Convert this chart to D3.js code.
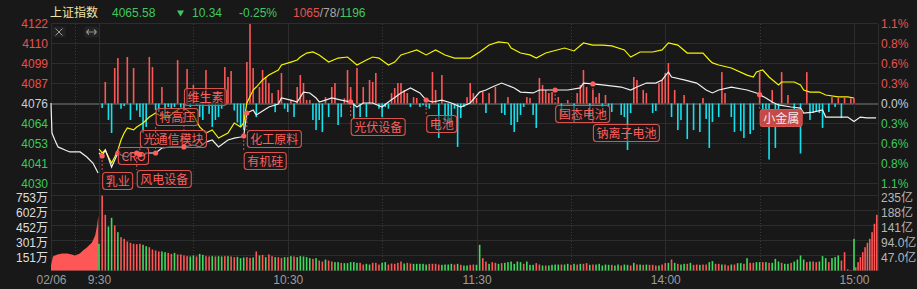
<!DOCTYPE html>
<html>
<head>
<meta charset="utf-8">
<title>上证指数 分时</title>
<script src="https://cdn.jsdelivr.net/npm/d3@7/dist/d3.min.js"></script>
<style>
  html, body { margin: 0; padding: 0; background: #181818; overflow: hidden; }
  svg { display: block; }
  text { font-family: "Liberation Sans", Arial, "Noto Sans CJK SC", sans-serif; }
  .cjk { font-family: "Noto Sans CJK SC", sans-serif; }
</style>
</head>
<body>
<div id="chart"></div>
<script>
// minute index t : -15 = 9:15 (auction), 0 = 9:30, 120 = 11:30/13:00, 240 = 15:00

const prevClose = 4075.92;
const priceSpan = 46.1;

const stockName = "上证指数";
const lastPrice = "4065.58";
const changeVal = "10.34";
const changePct = "-0.25%";
const breadth = ["1065", "78", "1196"];   // up / flat / down

const priceTicks = ["4122", "4110", "4099", "4087", "4076", "4064", "4053", "4041", "4030"];
const pctTicks = ["1.1%", "0.8%", "0.6%", "0.3%", "0.0%", "0.3%", "0.6%", "0.8%", "1.1%"];
const volMax = 753;
const volTicks = ["753万", "602万", "452万", "301万", "151万"];
const amtTicks = ["235亿", "188亿", "141亿", "94.0亿", "47.0亿"];
const timeTicks = [-15, 0, 60, 120, 180, 240];
const timeLabels = ["02/06", "9:30", "10:30", "11:30", "14:00", "15:00"];

// call auction virtual price
const auctionLine = [[-15,4076.2],[-14.7,4058.9],[-13.8,4054.9],[-12.8,4050.9],[-10.6,4049.1],[-9.1,4048.0],
  [-5.9,4048.0],[-3.8,4045.1],[-1.9,4041.6],[-0.6,4037.0],[-0.3,4035.9]];

// index (white)
const indexLine = [[0,4047.4],[1,4045.7],[2,4049.1],[3,4044.5],[4,4039.3],[5,4043.4],[6,4047.4],[7,4046.2],
  [9,4045.1],[10,4047.4],[12,4047.4],[14,4045.7],[15,4047.4],[18,4047.4],[20,4050.3],[23,4050.9],[27,4050.9],
  [30,4052.0],[32,4050.9],[34,4053.7],[36,4054.9],[38,4050.9],[41,4054.9],[43,4056.0],[45,4056.6],[46,4057.2],
  [47,4070.4],[49,4072.2],[50,4069.3],[52,4071.6],[54,4073.9],[57,4075.6],[58,4079.1],[61,4077.9],[63,4076.8],
  [65,4082.5],[67,4082.0],[69,4079.1],[70,4076.8],[72,4077.9],[74,4079.1],[77,4077.9],[80,4076.8],[82,4073.9],
  [84,4076.2],[87,4076.2],[90,4073.9],[92,4076.8],[96,4082.0],[99,4084.9],[102,4082.0],[104,4077.9],[106,4076.8],
  [109,4077.9],[112,4076.2],[115,4073.9],[118,4076.2],[121,4082.5],[123,4083.7],[125,4085.4],[128,4087.7],
  [132,4084.9],[134,4082.5],[138,4082.0],[140,4083.7],[145,4083.7],[149,4083.7],[153,4084.9],[154,4087.7],
  [157,4087.2],[160,4086.6],[166,4085.4],[169,4083.7],[171,4085.4],[174,4087.7],[177,4087.7],[179,4089.5],
  [181,4094.1],[182,4091.2],[186,4089.5],[190,4087.7],[193,4083.7],[195,4082.0],[197,4083.7],[201,4085.4],
  [206,4083.7],[209,4082.0],[212,4079.1],[214,4076.8],[216,4075.1],[220,4073.9],[223,4073.3],[224,4070.4],
  [227,4071.0],[230,4072.2],[231,4068.1],[235,4068.1],[238,4068.1],[240,4065.6],[242,4068.1],[244,4067.6],
  [247,4067.6]];

// leading index (yellow)
const leadLine = [[0,4049.7],[1,4047.4],[2,4049.1],[3,4045.1],[4,4041.6],[5,4045.1],[6,4049.1],[7,4054.9],
  [8,4058.9],[9,4061.8],[11,4060.7],[12,4062.4],[14,4064.7],[16,4068.1],[18,4070.4],[19,4069.3],[22,4068.1],
  [24,4071.0],[26,4073.3],[28,4072.2],[30,4069.3],[32,4062.4],[34,4058.9],[36,4060.7],[38,4056.0],[41,4058.9],
  [43,4064.7],[45,4062.4],[46,4064.7],[47,4076.2],[49,4083.7],[50,4085.4],[52,4089.5],[54,4092.3],[57,4095.2],
  [58,4098.1],[61,4099.8],[63,4101.0],[64,4102.7],[66,4105.0],[68,4105.6],[70,4103.9],[73,4099.8],[76,4102.1],
  [79,4102.7],[82,4098.1],[85,4101.0],[87,4102.7],[89,4102.1],[92,4098.1],[94,4099.8],[96,4103.9],[98,4105.0],
  [101,4106.8],[104,4103.9],[107,4106.8],[110,4103.9],[113,4102.1],[118,4102.1],[121,4105.6],[124,4109.6],
  [127,4111.4],[130,4110.8],[131,4107.9],[134,4105.0],[137,4103.9],[139,4102.1],[142,4105.0],[148,4107.9],
  [151,4106.2],[154,4110.8],[157,4109.6],[160,4109.6],[163,4109.1],[167,4106.8],[169,4102.7],[172,4105.6],
  [176,4105.6],[179,4106.8],[181,4110.8],[184,4109.6],[187,4105.0],[192,4105.0],[194,4101.0],[195,4099.3],
  [197,4098.1],[201,4096.4],[206,4092.3],[208,4091.2],[209,4094.1],[211,4095.2],[213,4091.2],[216,4086.6],
  [217,4088.3],[221,4088.3],[223,4086.6],[224,4083.7],[226,4082.5],[229,4082.5],[231,4080.8],[235,4079.7],
  [238,4079.7],[240,4079.1]];

// buy/sell force bars, in index points (+ red, - cyan)
const forceBars = [[1,-2.6],[2,12.4],[3,-9.5],[4,-17],[5,20.5],[6,26.2],[7,-3],[8,-1.5],[9,26.8],[10,-9.5],
  [11,20.5],[12,-4],[13,-7.8],[14,-17],[15,-13.5],[16,26.8],[17,21],[18,-3.7],[19,-4.9],[20,9.5],[21,-9.5],
  [22,-2],[23,-3],[24,-2],[25,25],[26,-2],[27,-3.7],[28,19.9],[29,-2],[30,10.7],[31,-1],[32,-7.8],[33,-9.5],
  [34,19.3],[35,-6],[36,-13.5],[37,-9.5],[38,-7.8],[39,-3],[40,21],[41,15.3],[42,18.7],[43,-4],[44,-11],
  [45,-13.5],[46,-15.3],[47,23.9],[48,45.8],[49,20.5],[50,-7.8],[51,9.5],[52,19.3],[53,15.3],[54,11.8],[55,6],
  [56,-5],[57,7.8],[58,17.6],[59,-3],[60,-4.9],[61,2],[62,-7.8],[63,9.5],[64,16.4],[65,11.8],[66,2],[67,2],
  [68,-9.5],[69,-15.3],[70,-9.5],[71,-16.4],[72,3.7],[73,-7.8],[74,9.5],[75,11.8],[76,-12.4],[77,-7.8],[78,3],
  [79,19.3],[80,9.5],[81,-8.4],[82,20.5],[83,-7.8],[84,9.5],[85,-7.8],[86,13.5],[87,12.4],[88,17.6],[89,-3],
  [90,-7.8],[91,-2],[92,-3],[93,6],[94,8.9],[95,11.8],[96,11.8],[97,7.8],[98,6],[99,-2],[100,3.7],[101,3.2],
  [102,-2],[103,-1],[104,-2],[105,-3],[106,18.1],[107,7.8],[108,-19.9],[109,16.4],[110,-10.7],[111,-11.2],
  [112,-12.4],[113,-3],[114,-25],[115,-8.4],[116,-2],[117,3.7],[118,11.8],[119,6],[120,3.2],
  [122,6.6],[123,-5.5],[124,6],[126,9.5],[128,-5.5],[129,-6.6],[130,3.7],[131,-12.4],[132,-16.4],[133,-10.7],
  [134,-6.6],[135,-2],[136,3.7],[137,3.2],[138,-6.6],[139,-14.1],[140,14.7],[141,10.7],[142,7.8],[143,6],
  [144,6.6],[146,3.7],[147,-7.8],[149,2],[151,-11.2],[152,6],[153,10.7],[154,19.3],[155,9.5],[156,-7.8],
  [157,7.8],[158,3.7],[159,6],[160,-2],[161,4.9],[162,-2],[163,-4.9],[166,-6.6],[167,-7.8],[168,-26.8],
  [169,-5.5],[170,15.3],[171,13.5],[173,7.8],[174,6],[176,-5.5],[177,-4.3],[178,11.8],[179,13.5],[180,17.6],
  [181,23.3],[182,-7.8],[183,7.8],[184,-15.3],[185,-9.5],[186,4.9],[187,-20.5],[189,-15.3],[191,-16.4],
  [192,3.2],[193,-8.9],[194,-25.6],[195,-10.7],[197,-7.8],[198,18.1],[199,6],[201,-7.8],[202,-16.4],
  [204,-15.9],[205,-19.9],[207,-17.6],[208,-15.3],[210,18.1],[211,-4.3],[212,-10.7],[213,-32.3],[214,7.8],
  [215,-25.6],[216,-10.7],[217,18.1],[219,4.9],[221,-13.5],[223,-28.8],[225,18.1],[226,-9.5],[227,-5.5],
  [228,-4.3],[229,-5.5],[230,-14.1],[232,-4.9],[233,3.7],[234,-2],[235,3.2],[236,-8.4],[237,3.2],[239,3],[240,3]];

// volume, 万 (one bar per minute)
const auctionVol = [[-15,50],[-14.4,141],[-13,161],[-11.5,171],[-10,171],[-8.5,161],[-7.5,151],[-6,171],
  [-5,201],[-3.8,231],[-2.2,281],[-1.2,351],[-0.6,452],[-0.2,552]];
const volMorning = [268,753,559,442,529,452,385,335,318,291, 278,268,264,268,258,244,234,211,201,191,
  191,184,177,167,177,161,161,151,144,141, 151,141,167,157,144,141,144,141,144,141,
  144,144,141,134,137,124,131,134,127,131, 191,151,157,134,161,144,134,134,127,134,
  134,144,141,134,144,141,134,124,117,124, 100,90,110,100,90,84,84,77,74,74,
  84,84,77,77,60,67,60,77,77,60, 77,84,60,70,67,77,90,70,77,70,
  67,67,67,67,60,67,67,67,60,57, 60,60,67,60,67,57,50,50,57,60, 57];
const volMorningDir = "grrggrgrrr" + "rrrrggrrrr" + "ggrrgrrrrg" + "grggrrgrgg" + "rgrrgggrrg" +
  "rgrgrrgrrg" + "rgrgggggrg" + "rrgrrggrgg" + "gggrrggrrr" + "ggrrrrrgrr" + "gggggrrrrg" + "gggrgrggrr" + "g";
const volAfternoon = [258,124,90,67,84,77,67,74,77,84, 90,67,90,84,67,90,57,57,74,60,
  50,50,50,57,60,60,60,60,67,57, 67,60,67,67,74,57,60,60,67,50, 60,57,57,50,60,50,60,
  57,50,77,60,60,57,60,57,57,50, 50,60,74,77,110,77,67,60,67,67, 77,57,60,57,60,60,84,94,67,67,
  60,60,50,60,60,74,74,67,124,77, 77,84,84,84,84,77,77,117,90,77, 67,67,77,90,110,151,110,84,90,90,
  84,90,144,124,84,124,134,151,100,184, 12,3,318];
const volAfternoonDir = "grrgrrgrgg" + "ggggrgggrr" + "grggggrggr" + "grgrrgrggg" + "ggrggrg" +
  "grgrgrgrrr" + "grrgrgrggr" + "grrgrrggrr" + "grrgrggrgr" + "rggrgrgggr" + "ggrggggrgr" + "rgggrgggrr" + "rrg";
const postVol = [33, 84, 134, 184, 234, 278, 318, 385, 469, 559];

// sector event tags
const sectorNames = ["乳业", "CRO", "风电设备", "光通信模块", "特高压", "维生素", "有机硅", "化工原料",
  "光伏设备", "电池", "固态电池", "钠离子电池", "小金属"];
const sectorTimes = [1, 6, 12, 13, 18, 27, 46, 47, 80, 104, 145, 157, 210];
const sectorHot = "小金属";

// ---------- layout ----------
const W = 917, H = 289;
const col = {
  bg: "#181818", grid: "#2d2d2d", dot: "#3a3a3a", zero: "#4a4a4a",
  red: "#ff5656", green: "#3ddc5c", cyan: "#14e1ee", white: "#f0f0f0", yellow: "#f5f500",
  axRed: "#e5524f", axGreen: "#3ec95c", axMid: "#c5cede", tag: "#ff5e5e", tagLine: "#d9534f"
};
const tagTop = [172, 147, 170, 130, 108, 88, 152, 130, 118, 115, 105, 124, 109];

const x = d3.scaleLinear().domain([-15, 0, 240, 247.6]).range([51, 99, 854, 878]);
const yP = d3.scaleLinear().domain([prevClose - priceSpan, prevClose + priceSpan]).range([183.5, 23.5]);
const yV = d3.scaleLinear().domain([0, volMax]).range([270.5, 195.5]);

const priceTickVals = priceTicks.map((d, i) => prevClose + (4 - i) * priceSpan / 4);
const volTickVals = volTicks.map((d, i) => volMax * (5 - i) / 5);

const svg = d3.select("#chart").append("svg").attr("width", W).attr("height", H);
svg.append("rect").attr("width", W).attr("height", H).attr("fill", col.bg);

// grid
const grid = svg.append("g").attr("shape-rendering", "crispEdges");
priceTickVals.forEach((v, i) => {
  grid.append("line").attr("x1", x(-15)).attr("x2", x(247.6))
    .attr("y1", yP(v)).attr("y2", yP(v))
    .attr("stroke", i === 4 ? col.zero : col.grid).attr("stroke-width", i === 4 ? 2 : 1);
});
volTickVals.concat([0]).forEach(v => {
  grid.append("line").attr("x1", x(-15)).attr("x2", x(247.6))
    .attr("y1", yV(v)).attr("y2", yV(v)).attr("stroke", col.grid);
});
[-15, 0, 60, 120, 180, 240, 247.6].forEach(t => {
  grid.append("line").attr("x1", Math.round(x(t)) + 0.5).attr("x2", Math.round(x(t)) + 0.5)
    .attr("y1", yP.range()[1]).attr("y2", yV(0)).attr("stroke", col.grid);
});
[-7.5, 30, 90, 150, 210].forEach(t => {
  [[yP.range()[1], yP.range()[0]], [yV(volMax), yV(0)]].forEach(r => {
    grid.append("line").attr("x1", Math.round(x(t)) + 0.5).attr("x2", Math.round(x(t)) + 0.5)
      .attr("y1", r[0]).attr("y2", r[1]).attr("stroke", col.dot).attr("stroke-dasharray", "1,2");
  });
});

// axes
function styleAxis(g, fills, shift) {
  g.attr("font-size", 12).attr("font-family", null);
  g.select(".domain").remove();
  g.selectAll(".tick line").remove();
  g.selectAll(".tick text").attr("fill", fills);
  if (shift) g.selectAll(".tick text").attr("transform", `translate(0,${shift})`);
}
svg.append("g").attr("transform", "translate(51,0)")
  .call(d3.axisLeft(yP).tickValues(priceTickVals).tickFormat((d, i) => priceTicks[i]).tickSize(0).tickPadding(3))
  .call(g => styleAxis(g, (d, i) => i < 4 ? col.axRed : i === 4 ? col.axMid : col.axGreen, 0));
svg.append("g").attr("transform", "translate(878,0)")
  .call(d3.axisRight(yP).tickValues(priceTickVals).tickFormat((d, i) => pctTicks[i]).tickSize(0).tickPadding(3))
  .call(g => styleAxis(g, (d, i) => i < 4 ? col.axRed : i === 4 ? col.axMid : col.axGreen, 0));
svg.append("g").attr("transform", "translate(51,0)")
  .call(d3.axisLeft(yV).tickValues(volTickVals).tickFormat((d, i) => volTicks[i]).tickSize(0).tickPadding(3))
  .call(g => styleAxis(g, "#dedede", 2));
svg.append("g").attr("transform", "translate(878,0)")
  .call(d3.axisRight(yV).tickValues(volTickVals).tickFormat((d, i) => amtTicks[i]).tickSize(0).tickPadding(3))
  .call(g => styleAxis(g, "#b6b6b6", 2));
svg.append("g").attr("transform", "translate(0,270)")
  .call(d3.axisBottom(x).tickValues(timeTicks).tickFormat((d, i) => timeLabels[i]).tickSize(0).tickPadding(5))
  .call(g => styleAxis(g, "#9c9c9c", 0));

// volume
svg.append("path").datum(auctionVol)
  .attr("d", d3.area().x(d => x(d[0])).y0(yV(0)).y1(d => yV(d[1])))
  .attr("fill", col.red);
const volBars = volMorning.map((v, i) => ({ t: i, v, up: volMorningDir[i] === "r" }))
  .concat(volAfternoon.map((v, i) => ({ t: 121 + i, v, up: volAfternoonDir[i] === "r" })))
  .concat(postVol.map((v, i) => ({ t: 240.55 + i * 0.74, v, up: true })));
svg.append("g").selectAll("rect").data(volBars).join("rect")
  .attr("x", d => x(d.t) - 0.8).attr("width", 1.6)
  .attr("y", d => yV(d.v)).attr("height", d => yV(0) - yV(d.v))
  .attr("fill", d => d.up ? col.red : col.green);

// force bars
svg.append("g").selectAll("rect").data(forceBars).join("rect")
  .attr("x", d => x(d[0]) - 0.8).attr("width", 1.6)
  .attr("y", d => yP(prevClose + Math.max(0, d[1])))
  .attr("height", d => Math.abs(yP(prevClose) - yP(prevClose + d[1])))
  .attr("fill", d => d[1] > 0 ? col.red : col.cyan);

// lines
const line = d3.line().x(d => x(d[0])).y(d => yP(d[1]));
svg.append("path").datum(leadLine).attr("d", line)
  .attr("fill", "none").attr("stroke", col.yellow).attr("stroke-width", 1.2);
svg.append("path").datum(auctionLine).attr("d", line)
  .attr("fill", "none").attr("stroke", col.white).attr("stroke-width", 1.2);
svg.append("path").datum(indexLine).attr("d", line)
  .attr("fill", "none").attr("stroke", col.white).attr("stroke-width", 1.2);

// sector tags
function priceAt(t) {
  const i = d3.bisector(d => d[0]).left(indexLine, t);
  const a = indexLine[Math.max(0, i - 1)], b = indexLine[Math.min(indexLine.length - 1, i)];
  if (b[0] === a[0]) return b[1];
  return a[1] + (b[1] - a[1]) * (t - a[0]) / (b[0] - a[0]);
}
const tags = svg.append("g");
sectorNames.forEach((name, i) => {
  const px = x(sectorTimes[i]), py = yP(priceAt(sectorTimes[i]));
  const top = tagTop[i], h = 17, hot = name === sectorHot;
  const g = tags.append("g");
  const txt = g.append("text").attr("class", "cjk").attr("font-size", 12).text(name);
  const w = txt.node().getComputedTextLength() + 6;
  const left = px + w > x(225) ? px - w : px;
  if (py < top || py > top + h) {
    g.insert("line", "text").attr("x1", px).attr("x2", px)
      .attr("y1", py).attr("y2", py < top ? top : top + h)
      .attr("stroke", col.tagLine).attr("stroke-dasharray", "2,2");
  }
  g.insert("circle", "text").attr("cx", px).attr("cy", py).attr("r", 2.6).attr("fill", col.tag);
  g.insert("rect", "text").attr("x", left + 0.5).attr("y", top + 0.5).attr("width", w).attr("height", h)
    .attr("rx", 3).attr("fill", hot ? "#c44a48" : "rgba(26,26,26,0.55)")
    .attr("stroke", col.tagLine).attr("stroke-width", 1.1);
  txt.attr("x", left + 3.5).attr("y", top + 13.5).attr("fill", hot ? "#f6e8e8" : col.tag);
});

// header
const hdr = svg.append("g").attr("font-size", 12);
hdr.append("text").attr("class", "cjk").attr("x", 50).attr("y", 17).attr("fill", "#efe6a6").text(stockName);
hdr.append("text").attr("x", 112).attr("y", 17).attr("fill", col.axGreen).text(lastPrice);
hdr.append("path").attr("d", "M177,10.5L184,10.5L180.5,16.5Z").attr("fill", col.axGreen);
hdr.append("text").attr("x", 192).attr("y", 17).attr("fill", col.axGreen).text(changeVal);
hdr.append("text").attr("x", 239).attr("y", 17).attr("fill", col.axGreen).text(changePct);
const br = hdr.append("text").attr("x", 293).attr("y", 17);
br.append("tspan").attr("fill", col.axRed).text(breadth[0]);
br.append("tspan").attr("fill", "#a8a8a8").text("/" + breadth[1] + "/");
br.append("tspan").attr("fill", col.axGreen).text(breadth[2]);

// toolbar icons
const icons = svg.append("g");
icons.append("rect").attr("x", 52.5).attr("y", 26.5).attr("width", 13).attr("height", 11).attr("rx", 2).attr("fill", "#232323");
icons.append("path").attr("d", "M55.5,28.5L62.5,35.5M62.5,28.5L55.5,35.5").attr("stroke", "#9a9a9a").attr("stroke-width", 1);
icons.append("rect").attr("x", 84.5).attr("y", 26.5).attr("width", 14).attr("height", 11).attr("rx", 2).attr("fill", "#232323");
icons.append("path").attr("d", "M86.5,32H96.5M86.5,32L89,29.5M86.5,32L89,34.5M96.5,32L94,29.5M96.5,32L94,34.5")
  .attr("stroke", "#8c8c8c").attr("fill", "none").attr("stroke-width", 1.2);
</script>
</body>
</html>
